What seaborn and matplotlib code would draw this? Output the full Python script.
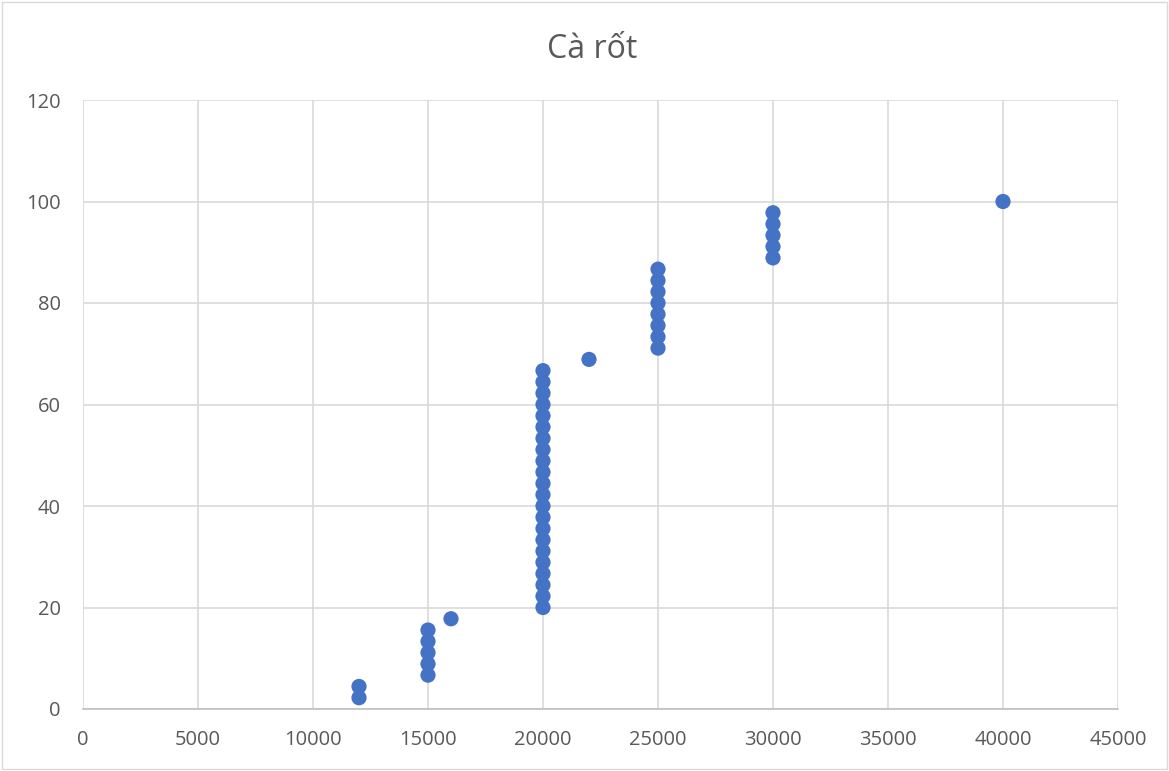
import matplotlib
matplotlib.use("Agg")
import matplotlib.pyplot as plt
import seaborn as sns
import pandas as pd

price = [12000, 12000,
         15000, 15000, 15000, 15000, 15000,
         16000,
         20000, 20000, 20000, 20000, 20000, 20000, 20000, 20000, 20000, 20000, 20000,
         20000, 20000, 20000, 20000, 20000, 20000, 20000, 20000, 20000, 20000, 20000,
         22000,
         25000, 25000, 25000, 25000, 25000, 25000, 25000, 25000,
         30000, 30000, 30000, 30000, 30000,
         40000]
percent = [2.22, 4.44,
           6.67, 8.89, 11.11, 13.33, 15.56,
           17.78,
           20.00, 22.22, 24.44, 26.67, 28.89, 31.11, 33.33, 35.56, 37.78, 40.00, 42.22,
           44.44, 46.67, 48.89, 51.11, 53.33, 55.56, 57.78, 60.00, 62.22, 64.44, 66.67,
           68.89,
           71.11, 73.33, 75.56, 77.78, 80.00, 82.22, 84.44, 86.67,
           88.89, 91.11, 93.33, 95.56, 97.78,
           100.00]
x_ticks = [0, 5000, 10000, 15000, 20000, 25000, 30000, 35000, 40000, 45000]
y_ticks = [0, 20, 40, 60, 80, 100, 120]
title = "Cà rốt"

df = pd.DataFrame({"price": price, "percent": percent})

sns.set_theme(style="white")
plt.rcParams['font.family'] = ['Open Sans', 'DejaVu Sans']

fig = plt.figure(figsize=(11.69, 7.71), dpi=100)
ax = fig.add_axes([83/1169, 1 - 709/771, (1118 - 83)/1169, (709 - 100)/771])

sns.scatterplot(data=df, x="price", y="percent", ax=ax, color="#4472C4",
                s=120, edgecolor="none", zorder=3, legend=False)

ax.set_xlim(0, 45000)
ax.set_ylim(0, 120)
ax.set_xticks(x_ticks)
ax.set_yticks(y_ticks)
ax.set_xticklabels([str(t) for t in x_ticks])
ax.set_yticklabels([str(t) for t in y_ticks])
ax.grid(True, color="#D9D9D9", linewidth=1.2)
ax.set_axisbelow(True)
for side in ["left", "right", "top"]:
    ax.spines[side].set_visible(False)
ax.spines["bottom"].set_color("#BFBFBF")
ax.spines["bottom"].set_linewidth(1.2)
ax.tick_params(axis="both", length=0, labelsize=14.5, labelcolor="#595959")
ax.tick_params(axis="y", pad=16)
ax.tick_params(axis="x", pad=15)
ax.set_xlabel("")
ax.set_ylabel("")

fig.text(592/1169, 1 - 58/771, title, ha="center", va="baseline", fontsize=23, color="#595959")

border = plt.Rectangle((0.002, 0.002), 0.996, 0.996, transform=fig.transFigure,
                       fill=False, edgecolor="#D9D9D9", linewidth=1)
fig.add_artist(border)

fig.savefig("out.png", dpi=100)
